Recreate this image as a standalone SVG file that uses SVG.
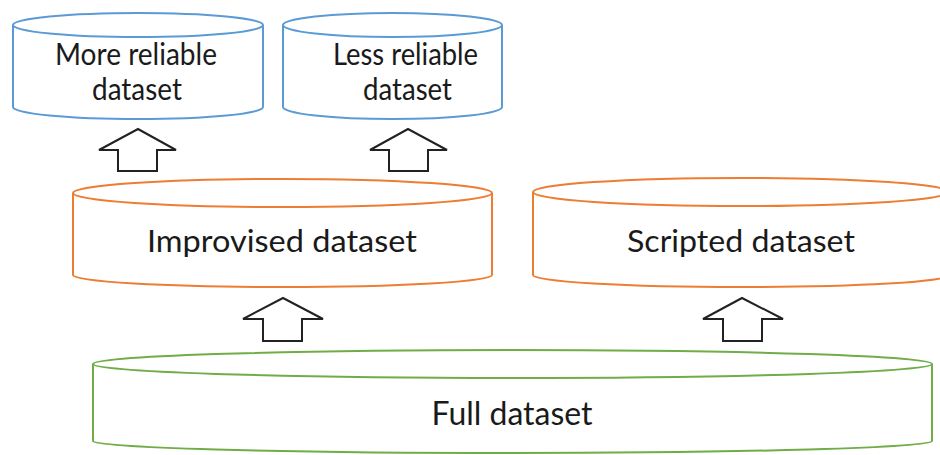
<svg xmlns="http://www.w3.org/2000/svg" width="940" height="455" viewBox="0 0 940 455">
  <style>
    .cyl { fill: #ffffff; stroke-width: 2; }
    .blue { stroke: #5B9BD5; }
    .orange { stroke: #ED7D31; }
    .green { stroke: #70AD47; }
    .lbl { font-family: Lato, "Open Sans", "Liberation Sans", sans-serif; font-size: 30px; fill: #1a1a1a; text-anchor: middle; }
    .arrow { fill: #ffffff; stroke: #222222; stroke-width: 2; stroke-linejoin: miter; }
  </style>

  <rect width="940" height="455" fill="#ffffff"/>

  <!-- connectors: block arrows pointing upward -->
  <g id="connectors">
    <polygon class="arrow" points="138,129 176,150 157,150 157,171 118,171 118,150 99,150"/>
    <polygon class="arrow" points="408,129 447,150 428,150 428,171 389,171 389,150 370,150"/>
    <polygon class="arrow" points="283,298 323,319 302,319 302,341 263,341 263,319 243,319"/>
    <polygon class="arrow" points="742,298 783,319 762,319 762,341 723,341 723,319 703,319"/>
  </g>

  <g id="more-reliable">
    <path class="cyl blue" d="M13,25 V107 A125 12 0 0 0 263,107 V25"/>
    <ellipse class="cyl blue" cx="138" cy="25" rx="125" ry="12"/>
    <text class="lbl" x="136" y="65" textLength="162" lengthAdjust="spacingAndGlyphs">More reliable</text>
    <text class="lbl" x="137" y="100" textLength="90" lengthAdjust="spacingAndGlyphs">dataset</text>
  </g>

  <g id="less-reliable">
    <path class="cyl blue" d="M283,25 V107 A109.5 12 0 0 0 502,107 V25"/>
    <ellipse class="cyl blue" cx="392.5" cy="25" rx="109.5" ry="12"/>
    <text class="lbl" x="405.5" y="65" textLength="145" lengthAdjust="spacingAndGlyphs">Less reliable</text>
    <text class="lbl" x="407.5" y="100" textLength="89" lengthAdjust="spacingAndGlyphs">dataset</text>
  </g>

  <g id="improvised">
    <path class="cyl orange" d="M73,193 V275 A209.5 12 0 0 0 492,275 V193"/>
    <ellipse class="cyl orange" cx="282.5" cy="193" rx="209.5" ry="14"/>
    <text class="lbl" x="282" y="252" textLength="270" lengthAdjust="spacingAndGlyphs">Improvised dataset</text>
  </g>

  <g id="scripted">
    <path class="cyl orange" d="M533,192 V275 A208 12 0 0 0 949,275 V192"/>
    <ellipse class="cyl orange" cx="741" cy="192" rx="208" ry="14"/>
    <text class="lbl" x="741" y="252" textLength="228" lengthAdjust="spacingAndGlyphs">Scripted dataset</text>
  </g>

  <g id="full">
    <path class="cyl green" d="M93,364 V441 A419.5 12 0 0 0 932,441 V364"/>
    <ellipse class="cyl green" cx="512.5" cy="364" rx="419.5" ry="14"/>
    <text class="lbl" x="512" y="425" style="font-size:32px" textLength="161" lengthAdjust="spacingAndGlyphs">Full dataset</text>
  </g>
</svg>
